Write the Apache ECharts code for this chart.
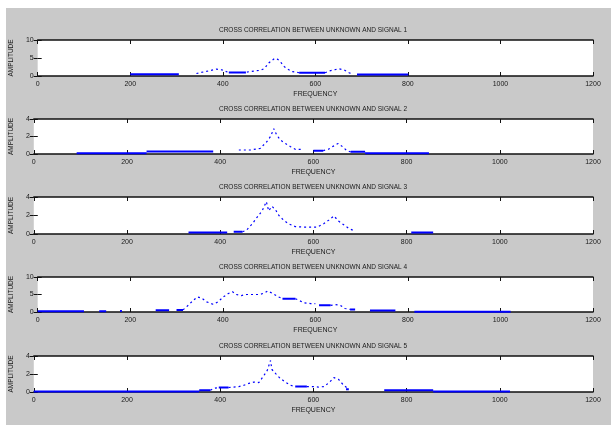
<!DOCTYPE html>
<html>
<head>
    <meta charset="utf-8">
    <title>Cross correlation</title>
    <script src="https://cdn.jsdelivr.net/npm/echarts@6/dist/echarts.min.js"></script>
    <style>
        body { margin: 0; background: #fff; }
        .fig-bg {
            position: absolute;
            left: 6px; top: 8px;
            width: 605px; height: 417px;
            background: #c9c9c9;
        }
        #main {
            position: absolute;
            left: 0; top: 0;
            width: 611px; height: 435px;
        }
    </style>
</head>
<body>
    <div class="fig-bg"></div>
    <div id="main"></div>

    <script>
        const titles = [
            'CROSS CORRELATION BETWEEN UNKNOWN AND SIGNAL 1',
            'CROSS CORRELATION BETWEEN UNKNOWN AND SIGNAL 2',
            'CROSS CORRELATION BETWEEN UNKNOWN AND SIGNAL 3',
            'CROSS CORRELATION BETWEEN UNKNOWN AND SIGNAL 4',
            'CROSS CORRELATION BETWEEN UNKNOWN AND SIGNAL 5'
        ];
        const yMax = [10, 4, 4, 10, 4];
        const yStep = [5, 2, 2, 5, 2];

        // flat (solid) stretches, null = gap
        const sig1Flat = [[200, 0.5], [305, 0.5], null, [413, 1.0], [450, 1.0], null,
            [565, 0.9], [621, 0.9], null, [690, 0.45], [801, 0.45]];
        const sig1Peak = [[343, 0.7], [365, 1.3], [386, 1.9], [398, 1.7], [410, 1.1], null,
            [452, 1.1], [469, 1.4], [482, 1.6], [490, 2.1], [500, 3.7], [512, 4.9], [519, 4.6],
            [526, 3.7], [533, 2.6], [543, 1.7], [551, 1.2], [565, 0.9], null,
            [621, 0.9], [630, 1.4], [640, 1.7], [651, 2.0], [662, 1.7], [673, 0.9], [680, 0.5]];

        const sig2Flat = [[92, 0.1], [242, 0.1], null, [242, 0.3], [385, 0.3], null, [600, 0.38], [621, 0.38], null,
            [680, 0.25], [711, 0.25], null, [711, 0.1], [848, 0.1]];
        const sig2Peak = [[440, 0.46], [465, 0.46], [486, 0.65], [500, 1.4], [508, 2.0], [515, 2.9],
            [521, 2.2], [529, 1.6], [540, 1.2], [551, 0.84], [561, 0.54], [575, 0.54], null,
            [621, 0.38], [632, 0.54], [643, 0.9], [653, 1.2], [661, 0.9], [672, 0.38], [680, 0.25]];

        const sig3Flat = [[332, 0.15], [415, 0.15], null, [429, 0.25], [448, 0.25], null,
            [810, 0.15], [857, 0.15]];
        const sig3Peak = [[448, 0.25], [456, 0.4], [469, 1.1], [479, 1.8], [490, 2.5], [499, 3.5],
            [504, 2.5], [511, 3.0], [519, 2.6], [526, 2.0], [536, 1.5], [547, 1.1], [561, 0.8],
            [579, 0.75], [593, 0.75], [608, 0.75], [622, 1.1], [633, 1.5], [644, 1.95], [654, 1.4],
            [665, 1.0], [676, 0.6], [690, 0.3]];

        const sig4Flat = [[0, 0.2], [100, 0.2], null, [133, 0.2], [148, 0.2], null, [178, 0.3], [182, 0.3], null,
            [255, 0.5], [284, 0.5], null, [300, 0.6], [314, 0.6], null, [529, 3.8], [557, 3.8], null,
            [608, 1.9], [633, 1.9], null, [675, 0.75], [686, 0.75], null, [718, 0.4], [773, 0.4], null,
            [814, 0.1], [1022, 0.1]];
        const sig4Peak = [[314, 0.6], [326, 2.0], [336, 3.3], [345, 4.3], [354, 4.0], [365, 2.9],
            [379, 2.2], [390, 2.9], [401, 4.3], [411, 5.2], [421, 5.8], [429, 5.0], [440, 4.7],
            [451, 5.0], [465, 5.0], [479, 5.0], [490, 5.4], [497, 6.0], [508, 5.3], [519, 4.4],
            [529, 3.8], null, [557, 3.8], [565, 3.3], [576, 2.6], [590, 2.4], [600, 2.4], null,
            [633, 1.9], [643, 2.1], [654, 1.9], [664, 1.0], [675, 0.75]];

        const sig5Flat = [[0, 0.05], [355, 0.05], null, [355, 0.2], [379, 0.2], null, [397, 0.5], [418, 0.5], null,
            [561, 0.6], [586, 0.6], null, [670, 0.3], [676, 0.3], null,
            [752, 0.2], [857, 0.2], null, [857, 0.05], [1022, 0.05]];
        const sig5Peak = [[379, 0.2], [386, 0.4], [397, 0.5], null, [418, 0.5], [429, 0.55], [440, 0.6],
            [451, 0.75], [461, 0.95], [472, 1.1], [483, 1.05], [492, 1.7], [501, 2.4], [508, 3.5],
            [511, 2.5], [519, 2.05], [529, 1.5], [540, 1.1], [551, 0.75], [561, 0.6], null,
            [586, 0.6], [600, 0.6], [611, 0.55], [622, 0.6], [633, 1.0], [644, 1.6], [654, 1.4],
            [665, 0.75], [676, 0.3]];

        const flats = [sig1Flat, sig2Flat, sig3Flat, sig4Flat, sig5Flat];
        const peaks = [sig1Peak, sig2Peak, sig3Peak, sig4Peak, sig5Peak];

        var myChart = echarts.init(document.getElementById('main'));

        const tops = [40, 119, 197, 277, 356];
        const heights = [36, 35, 37, 35, 36];
        const font = 'Liberation Sans, Arial, sans-serif';
        const txt = '#1a1a1a';

        const grid = [], xAxis = [], yAxis = [], series = [], title = [];
        const gapData = d => d.map(p => p === null ? '-' : p);

        for (let i = 0; i < 5; i++) {
            grid.push({
                left: 33, right: 18, top: tops[i], height: heights[i],
                show: true, backgroundColor: '#fff', borderWidth: 0
            });
            title.push({
                text: titles[i],
                left: 313, top: tops[i] - 13,
                textAlign: 'center', padding: 0,
                textStyle: { fontSize: 6.5, fontWeight: 'normal', color: txt, fontFamily: font }
            });
            // bottom + top x axes
            xAxis.push({
                gridIndex: i, type: 'value', min: 0, max: 1200, interval: 200, position: 'bottom',
                name: 'FREQUENCY', nameLocation: 'middle', nameGap: 15,
                nameTextStyle: { fontSize: 7, color: txt, fontFamily: font },
                axisLine: { lineStyle: { color: '#111', width: 1.5 } },
                axisTick: { inside: true, length: 4, lineStyle: { color: '#111' } },
                axisLabel: { fontSize: 7, color: txt, margin: 5, fontFamily: font, formatter: v => String(v) },
                splitLine: { show: false }
            });
            xAxis.push({
                gridIndex: i, type: 'value', min: 0, max: 1200, interval: 200, position: 'top',
                axisLine: { show: true, onZero: false, lineStyle: { color: '#111', width: 1.5 } },
                axisTick: { inside: true, length: 4, lineStyle: { color: '#111' } },
                axisLabel: { show: false },
                splitLine: { show: false }
            });
            yAxis.push({
                gridIndex: i, type: 'value', min: 0, max: yMax[i], interval: yStep[i], position: 'left',
                name: 'AMPLITUDE', nameLocation: 'middle', nameGap: 11,
                nameTextStyle: { fontSize: 6.5, color: txt, fontFamily: font },
                axisLine: { show: false },
                axisTick: { show: true, inside: true, length: 4, lineStyle: { color: '#111' } },
                axisLabel: { fontSize: 7, color: txt, margin: 4, fontFamily: font },
                splitLine: { show: false }
            });
            yAxis.push({
                gridIndex: i, type: 'value', min: 0, max: yMax[i], interval: yStep[i], position: 'right',
                axisLine: { show: false },
                axisTick: { show: true, inside: true, length: 4, lineStyle: { color: '#111' } },
                axisLabel: { show: false },
                splitLine: { show: false }
            });
            series.push({
                type: 'line', xAxisIndex: 2 * i, yAxisIndex: 2 * i,
                data: gapData(flats[i]), showSymbol: false, connectNulls: false,
                lineStyle: { color: '#0000ff', width: 2 }, silent: true
            });
            series.push({
                type: 'line', xAxisIndex: 2 * i, yAxisIndex: 2 * i,
                data: gapData(peaks[i]), showSymbol: false, connectNulls: false,
                lineStyle: { color: '#0000ff', width: 1.2, type: [2, 3] }, silent: true
            });
        }

        myChart.setOption({ animation: false, title, grid, xAxis, yAxis, series });
    </script>
</body>
</html>
